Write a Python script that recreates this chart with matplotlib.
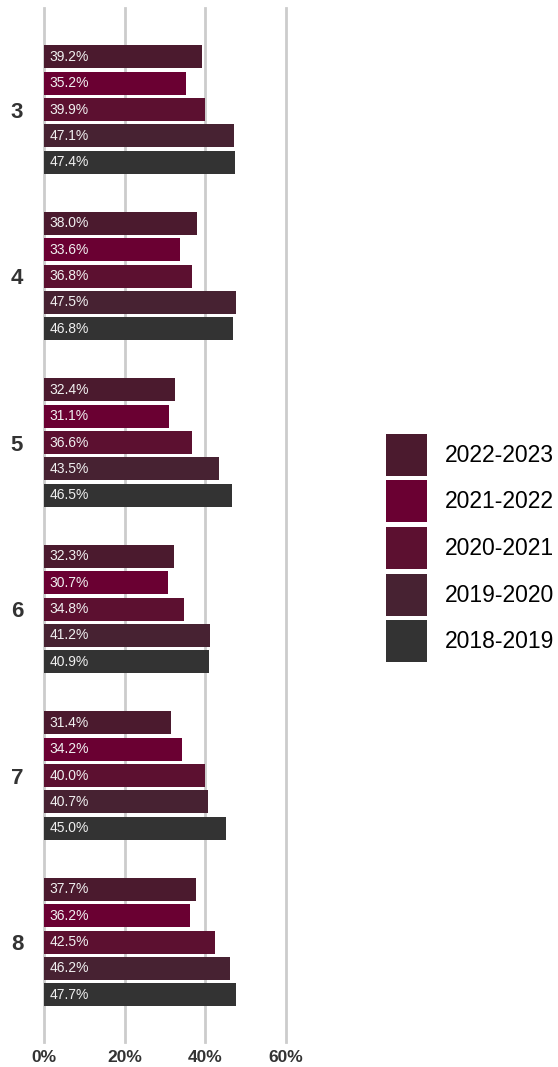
import numpy as np
import matplotlib.pyplot as plt
from matplotlib.patches import Patch

plt.rcParams['font.family'] = ['Liberation Sans', 'DejaVu Sans']

grades = ["3", "4", "5", "6", "7", "8"]
years = ["2022-2023", "2021-2022", "2020-2021", "2019-2020", "2018-2019"]
colors = ["#4b1a2e", "#6a0032", "#5c1030", "#472232", "#333333"]

v_2022_2023 = [39.2, 38.0, 32.4, 32.3, 31.4, 37.7]
v_2021_2022 = [35.2, 33.6, 31.1, 30.7, 34.2, 36.2]
v_2020_2021 = [39.9, 36.8, 36.6, 34.8, 40.0, 42.5]
v_2019_2020 = [47.1, 47.5, 43.5, 41.2, 40.7, 46.2]
v_2018_2019 = [47.4, 46.8, 46.5, 40.9, 45.0, 47.7]
series = [v_2022_2023, v_2021_2022, v_2020_2021, v_2019_2020, v_2018_2019]

W, H = 558, 1067
fig = plt.figure(figsize=(W / 100, H / 100), dpi=100)
ax = fig.add_axes([44 / W, 1 - 1042 / H, (286 - 44) / W, (1042 - 8) / H])

pitch = 0.158
bh = 0.138
y = np.arange(len(grades))
for i, (vals, c) in enumerate(zip(series, colors)):
    ypos = y + (i - 2) * pitch
    ax.barh(ypos, vals, height=bh, color=c, zorder=3)
    for yy, v in zip(ypos, vals):
        ax.annotate(f"{v:.1f}%", (0, yy), xytext=(4, 0), textcoords="offset points",
                    va="center", ha="left", color="#f0f0f0", fontsize=10, zorder=4)

ax.set_xlim(0, 60)
ax.set_ylim(5.6, -0.61)
for xv in [0, 20, 40, 60]:
    ax.axvline(xv, color="#cccccc", lw=2, zorder=1, clip_on=False)

ax.set_xticks([0, 20, 40, 60])
ax.set_xticklabels(["0%", "20%", "40%", "60%"], fontsize=12.5, fontweight="bold", color="#333333")
ax.tick_params(axis="x", length=0, pad=6)
ax.set_yticks(y)
ax.set_yticklabels(grades, fontsize=16, fontweight="bold", color="#333333")
ax.tick_params(axis="y", length=0, pad=15)
for s in ax.spines.values():
    s.set_visible(False)

# legend boxes ~41x42 px
handles = [Patch(facecolor=c, edgecolor="none") for c in colors]
fig.legend(handles, years, loc="center left", bbox_to_anchor=(386 / W, 1 - 548 / H),
           frameon=False, fontsize=16.5, handlelength=1.8, handleheight=2.445,
           labelspacing=0.2, handletextpad=0.78, borderaxespad=0, borderpad=0)

fig.savefig("out.png", dpi=100)
